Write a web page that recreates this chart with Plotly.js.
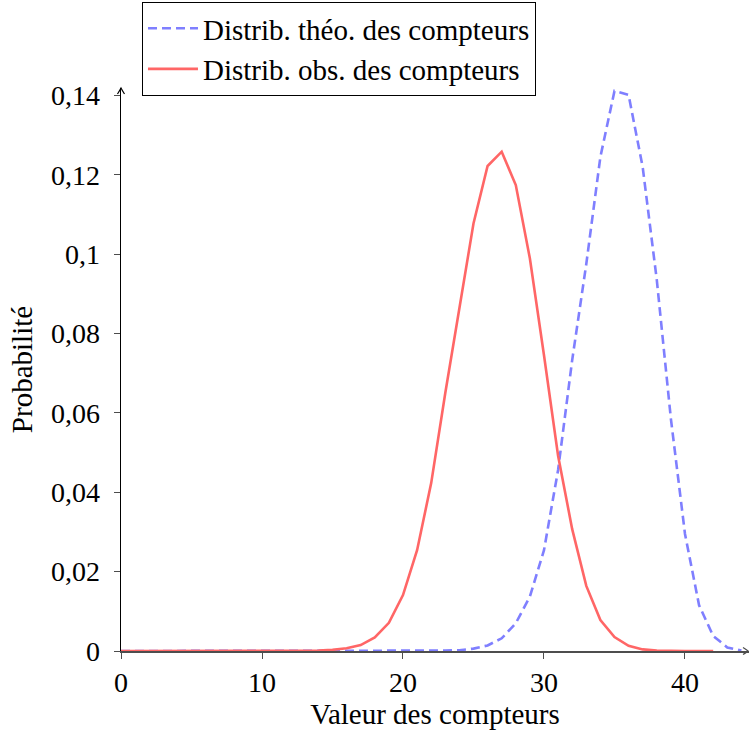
<!DOCTYPE html>
<html>
<head>
<meta charset="utf-8">
<script src="https://cdn.plot.ly/plotly-3.0.1.min.js"></script>
<style>
  html, body { margin: 0; padding: 0; background: #ffffff; }
  #chart { width: 750px; height: 731px; }
</style>
</head>
<body>
<div id="chart"></div>
<script>
// Counter values (x) and probabilities for each distribution
const theoValues = [0,1,2,3,4,5,6,7,8,9,10,11,12,13,14,15,16,17,18,19,20,21,22,23,24,25,26,27,28,29,30,31,32,33,34,35,36,37,38,39,40,41,42,43,44];
const theoProb = [0,0,0,0,0,0,0,0,0,0,0,0,0,0,0,0,0,0,0,0,0,0,0,0.0001,0.0002,0.0006,0.0014,0.0032,0.0070,0.0137,0.0254,0.0456,0.0733,0.0975,0.1245,0.1411,0.1401,0.1219,0.0935,0.0585,0.0295,0.0115,0.0038,0.0009,0.0001];

const obsValues = [0,1,2,3,4,5,6,7,8,9,10,11,12,13,14,15,16,17,18,19,20,21,22,23,24,25,26,27,28,29,30,31,32,33,34,35,36,37,38,39,40,41,42];
const obsProb = [0,0,0,0,0,0,0,0,0,0,0,0,0,0,0.0001,0.0003,0.0007,0.0015,0.0034,0.0071,0.0141,0.0254,0.0423,0.0650,0.0860,0.1077,0.1222,0.1258,0.1174,0.0989,0.0745,0.0492,0.0307,0.0164,0.0078,0.0035,0.0013,0.0004,0.0001,0,0,0,0];

const theoName = 'Distrib. théo. des compteurs';
const obsName = 'Distrib. obs. des compteurs';

const xTickVals = [0, 10, 20, 30, 40];
const xTickText = ['0', '10', '20', '30', '40'];
const yTickVals = [0, 0.02, 0.04, 0.06, 0.08, 0.1, 0.12, 0.14];
const yTickText = ['0', '0,02', '0,04', '0,06', '0,08', '0,1', '0,12', '0,14'];

const xTitle = 'Valeur des compteurs';
const yTitle = 'Probabilité';

const serif = 'Liberation Serif, Times New Roman, serif';

const traces = [
  {
    x: theoValues, y: theoProb, name: theoName,
    type: 'scatter', mode: 'lines',
    line: { color: 'rgb(127,127,255)', width: 2.6, dash: '9px,5px' },
    cliponaxis: false
  },
  {
    x: obsValues, y: obsProb, name: obsName,
    type: 'scatter', mode: 'lines',
    line: { color: 'rgb(255,102,102)', width: 2.6 },
    cliponaxis: false
  }
];

const layout = {
  width: 750, height: 731,
  margin: { l: 121, r: 1, t: 88, b: 80, pad: 0 },
  paper_bgcolor: '#ffffff',
  plot_bgcolor: '#ffffff',
  font: { family: serif, size: 29, color: '#000000' },
  showlegend: true,
  legend: {
    x: 0.0334, y: 1.153, xanchor: 'left', yanchor: 'top',
    bgcolor: '#ffffff', bordercolor: '#000000', borderwidth: 1,
    font: { family: serif, size: 29, color: '#000000' },
    itemwidth: 50,
    tracegroupgap: 0
  },
  xaxis: {
    range: [0, 44.54],
    showgrid: false, zeroline: false,
    showline: true, linecolor: '#4d4d4d', linewidth: 1.5,
    layer: 'below traces',
    tickmode: 'array', tickvals: xTickVals, ticktext: xTickText,
    ticks: 'outside', ticklen: 6, tickwidth: 1, tickcolor: '#4d4d4d',
    tickfont: { family: serif, size: 28, color: '#000000' },
    title: { text: xTitle, font: { family: serif, size: 29, color: '#000000' }, standoff: 0 },
    automargin: false
  },
  xaxis2: {
    overlaying: 'x', matches: 'x', anchor: 'y',
    range: [0, 44.54],
    showgrid: false, zeroline: false, showline: false,
    tickmode: 'array', tickvals: xTickVals,
    ticks: 'inside', ticklen: 6, tickwidth: 1, tickcolor: '#4d4d4d',
    showticklabels: false
  },
  yaxis: {
    range: [0, 0.14185],
    showgrid: false, zeroline: false,
    showline: true, linecolor: '#000000', linewidth: 1.3,
    layer: 'below traces',
    tickmode: 'array', tickvals: yTickVals, ticktext: yTickText,
    ticks: 'outside', ticklen: 6, tickwidth: 1, tickcolor: '#4d4d4d',
    ticklabelstandoff: 8,
    tickfont: { family: serif, size: 28, color: '#000000' },
    title: { text: yTitle, font: { family: serif, size: 29, color: '#000000' }, standoff: 10 },
    automargin: false
  },
  shapes: [
    // arrow tip at the top of the y axis
    {
      type: 'path', xref: 'paper', yref: 'paper',
      xsizemode: 'pixel', ysizemode: 'pixel', xanchor: 0, yanchor: 1,
      path: 'M-3.5,-6 Q-1,-2 0,0 Q1,-2 3.5,-6',
      line: { color: '#000000', width: 1.2 }
    },
    // arrow tip at the right end of the x axis
    {
      type: 'path', xref: 'paper', yref: 'paper',
      xsizemode: 'pixel', ysizemode: 'pixel', xanchor: 1, yanchor: 0,
      path: 'M-6,3.5 Q-2,1 -1,0 Q-2,-1 -6,-3.5',
      line: { color: '#4d4d4d', width: 1.2 }
    }
  ]
};

Plotly.newPlot('chart', traces, layout, { displayModeBar: false, staticPlot: true });
</script>
</body>
</html>
